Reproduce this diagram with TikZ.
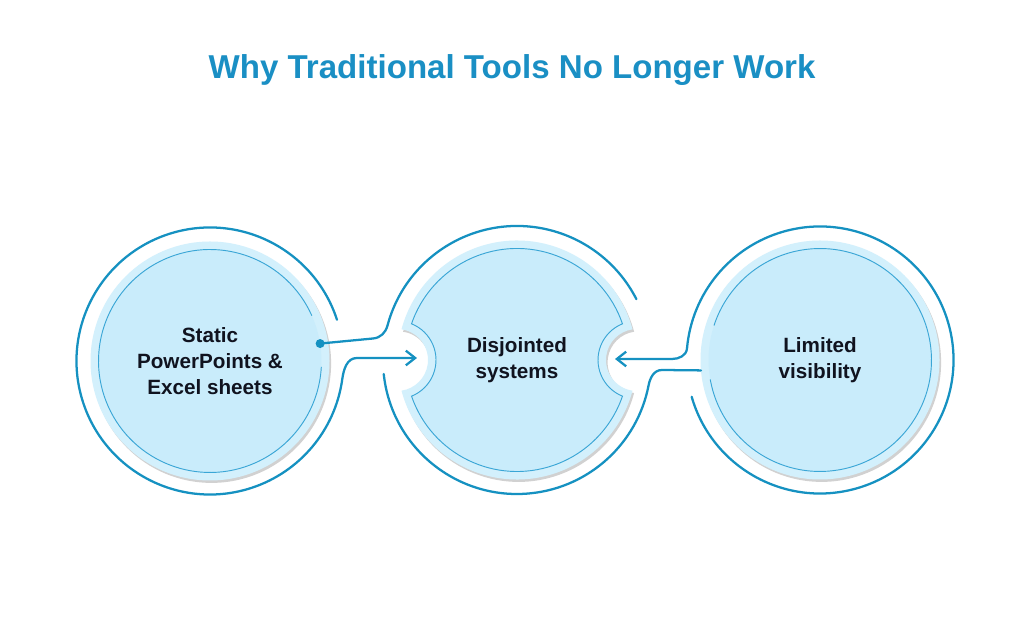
\documentclass[tikz,border=0pt]{standalone}
\usepackage{fontspec}
\setmainfont{Liberation Sans}
\usetikzlibrary{arrows.meta, shadows}
\definecolor{ringblue}{HTML}{1591C1}
\definecolor{thinblue}{HTML}{3AA6D6}
\definecolor{bubblefill}{HTML}{C9ECFB}
\definecolor{bubbleedge}{HTML}{D3F0FC}
\definecolor{titleblue}{HTML}{1A8FC4}
\definecolor{ink}{HTML}{10131F}
\tikzset{
  bubble/.style n args={2}{circle, fill=bubbleedge, inner sep=0pt, outer sep=0pt, minimum size=179.25pt,
    drop shadow={shadow xshift=1.2pt, shadow yshift=-1.8pt, fill=black, opacity=0.18},
    path picture={
      \fill[bubblefill] (path picture bounding box.center) circle (83.6pt);
      \draw[thinring] ([shift={(#1:83.6pt)}]path picture bounding box.center)
        arc[start angle=#1, end angle=#2, radius=83.6pt];}},
  caption/.style={font=\fontsize{15.5}{19.5}\selectfont\bfseries, text=ink, align=center},
  ring/.style={draw=ringblue, line width=1.7pt},
  thinring/.style={draw=thinblue, line width=0.7pt},
  link/.style={ring, line cap=round},
  tip/.style={-{Straight Barb[length=7pt, width=11pt]}}
}
\begin{document}
\begin{tikzpicture}[x=0.75pt, y=0.75pt]
\useasboundingbox[fill=white] (0,0) rectangle (1024,627);
\node[font=\fontsize{24.8}{29}\selectfont\bfseries, text=titleblue, anchor=base] (title) at (512,548.7) {Why Traditional Tools No Longer Work};

\coordinate (c2) at (517,267);
\fill[bubbleedge, drop shadow={shadow xshift=1.2pt, shadow yshift=-1.8pt, fill=black, opacity=0.18}]
  ([shift={(14.87:119.5)}]c2) arc[start angle=14.87, end angle=165.13, radius=119.5]
  arc[start angle=81.65, end angle=-81.65, radius=31]
  arc[start angle=194.87, end angle=345.13, radius=119.5]
  arc[start angle=261.65, end angle=98.35, radius=31] -- cycle;
\draw[thinring, fill=bubblefill]
  ([shift={(18.94:111.5)}]c2) arc[start angle=18.94, end angle=161.06, radius=111.5]
  arc[start angle=68.1, end angle=-68.1, radius=39]
  arc[start angle=198.94, end angle=341.06, radius=111.5]
  arc[start angle=248.1, end angle=111.9, radius=39] -- cycle;

\node[bubble={24}{357}, caption] (s1) at (210,266) {Static\\PowerPoints \&\\Excel sheets};
\node[caption] (s2) at (c2) {Disjointed\\systems};
\node[bubble={190}{522}, caption] (s3) at (820,267) {Limited\\visibility};

\coordinate (d1) at ([shift={(9:111.5)}]s1.center);
\coordinate (n2w) at (417,269);
\coordinate (n2e) at (615,268);

\draw[link] (d1) -- (373,288.5) to[out=5, in=255] ([shift={(165:134)}]c2)
  arc[start angle=165, end angle=27, radius=134];
\fill[ringblue] (d1) circle (4.5);
\draw[link, tip] ([shift={(18:133.5)}]s1.center) arc[start angle=18, end angle=352, radius=133.5]
  to[out=82, in=180] (357,269) -- (n2w);
\draw[link, tip] ([shift={(196:133.5)}]s3.center) arc[start angle=196, end angle=535, radius=133.5]
  to[out=265, in=0] (672,268) -- (n2e);
\draw[link] ([shift={(186:134)}]c2) arc[start angle=186, end angle=349, radius=134]
  to[out=79, in=180] (662,257) -- (s3.185);
\end{tikzpicture}
\end{document}
